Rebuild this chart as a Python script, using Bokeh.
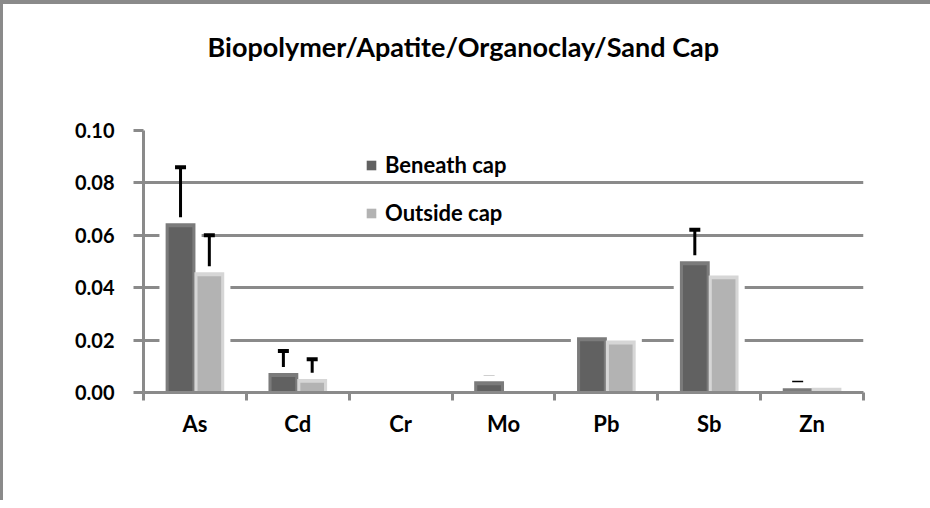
from bokeh.plotting import figure
from bokeh.models import (ColumnDataSource, Whisker, TeeHead, Legend, LegendItem,
                          FixedTicker, NumeralTickFormatter, Range1d, Title)
from bokeh.embed import file_html
from bokeh.resources import INLINE

# ---------------- data ----------------
title_text = "Biopolymer/Apatite/Organoclay/Sand Cap"
categories = ["As", "Cd", "Cr", "Mo", "Pb", "Sb", "Zn"]
beneath = [0.0646, 0.0074, 0.0005, 0.0043, 0.0211, 0.0501, 0.0016]
beneath_err = [0.0214, 0.0084, 0.0010, 0.0015, 0.0003, 0.0120, 0.0021]
outside = [0.0459, 0.0052, 0.0002, 0.0005, 0.0198, 0.0447, 0.0018]
outside_err = [0.0141, 0.0075, 0.0, 0.0009, 0.0002, 0.0006, 0.0012]
series_names = ["Beneath cap", "Outside cap"]
y_ticks = [0.0, 0.02, 0.04, 0.06, 0.08, 0.10]

FONT = "Lato"
GRID = "#8a8a8a"
Y_MAX = 0.1

p = figure(frame_width=720, frame_height=262, output_backend="svg",
           toolbar_location=None,
           x_range=Range1d(0, len(categories)), y_range=Range1d(0, Y_MAX),
           min_border_left=140, min_border_right=67, min_border_top=126,
           min_border_bottom=108)
p.background_fill_color = "white"
p.border_fill_color = "white"
p.outline_line_color = None
p.styles = {"border-top": "4px solid #8a8a8a", "border-left": "3px solid #8a8a8a"}
p.title.visible = False

# spacer between plot area and title, then the title itself
p.add_layout(Title(text=" ", text_font_size="2px", standoff=64), "above")
p.add_layout(Title(text=title_text, text_font=FONT, text_font_style="bold",
                   text_font_size="27px", align="left", offset=64, standoff=0,
                   text_color="black"), "above")

BW = 0.29          # bar width (category units)
OFF = 0.14         # dodge offset
INNER = 0.23       # inner body width
HALO = 0.41        # white halo width
HALO_UP = 0.0023   # halo above bar
BEVEL = 0.0015

renderers = []
for vals, errs, sign, edge, body in [
        (beneath, beneath_err, -1, "#7b7b7b", "#616161"),
        (outside, outside_err, 1, "#d6d6d6", "#b3b3b3")]:
    xs = [i + 0.5 + sign * OFF for i in range(len(categories))]
    src = ColumnDataSource(dict(
        x=xs, top=vals,
        halo=[v + HALO_UP for v in vals],
        inner=[max(v - BEVEL, 0) for v in vals]))
    p.vbar(x="x", top="halo", bottom=0, width=HALO, source=src,
           fill_color="white", line_color=None)
    renderers.append((src, edge, body))

rend_items = []
for (src, edge, body), vals, errs in zip(renderers, [beneath, outside],
                                          [beneath_err, outside_err]):
    p.vbar(x="x", top="top", bottom=0, width=BW, source=src,
           fill_color=edge, line_color=None)
    r = p.vbar(x="x", top="inner", bottom=0, width=INNER, source=src,
               fill_color=body, line_color=None)
    rend_items.append(r)
    xs = src.data["x"]
    keep = [i for i, e in enumerate(errs) if e > 0]
    wsrc = ColumnDataSource(dict(
        x=[xs[i] for i in keep],
        lo=[vals[i] for i in keep],
        hi=[vals[i] + errs[i] for i in keep]))
    w = Whisker(base="x", lower="lo", upper="hi", source=wsrc,
                line_color="black", line_width=3,
                upper_head=TeeHead(size=11, line_width=4, line_color="black"),
                lower_head=None)
    p.add_layout(w)

legend = Legend(items=[LegendItem(label=series_names[0], renderers=[rend_items[0]]),
                       LegendItem(label=series_names[1], renderers=[rend_items[1]])],
                location=(222, 166), orientation="vertical")
legend.background_fill_alpha = 0
legend.border_line_color = None
legend.padding = 0
legend.margin = 0
legend.spacing = 21
legend.glyph_width = 12
legend.glyph_height = 12
legend.label_height = 24
legend.label_standoff = 8
legend.label_text_font = FONT
legend.label_text_font_style = "bold"
legend.label_text_font_size = "22px"
legend.label_text_color = "black"
legend.label_text_baseline = "middle"
p.add_layout(legend)

# x axis
p.xaxis.ticker = FixedTicker(ticks=[i + 0.5 for i in range(len(categories))],
                             minor_ticks=list(range(len(categories) + 1)))
p.xaxis.major_label_overrides = {i + 0.5: c for i, c in enumerate(categories)}
p.xaxis.major_tick_line_color = None
p.xaxis.major_tick_out = 0
p.xaxis.major_tick_in = 0
p.xaxis.minor_tick_out = 8
p.xaxis.minor_tick_in = 0
p.xaxis.minor_tick_line_color = GRID
p.xaxis.minor_tick_line_width = 3
p.xaxis.axis_line_color = GRID
p.xaxis.axis_line_width = 3
p.xaxis.major_label_standoff = 9
p.xaxis.major_label_text_font = FONT
p.xaxis.major_label_text_font_style = "bold"
p.xaxis.major_label_text_font_size = "22px"
p.xaxis.major_label_text_color = "black"
p.xgrid.visible = False

# y axis
p.yaxis.ticker = FixedTicker(ticks=y_ticks, minor_ticks=[])
p.yaxis.formatter = NumeralTickFormatter(format="0.00")
p.yaxis.major_tick_out = 10
p.yaxis.major_tick_in = 0
p.yaxis.major_tick_line_color = GRID
p.yaxis.major_tick_line_width = 3
p.yaxis.axis_line_color = GRID
p.yaxis.axis_line_width = 3
p.yaxis.major_label_standoff = 19
p.yaxis.major_label_text_font = FONT
p.yaxis.major_label_text_font_style = "bold"
p.yaxis.major_label_text_font_size = "20px"
p.yaxis.major_label_text_color = "black"
p.ygrid.grid_line_color = GRID
p.ygrid.grid_line_width = 3

open("out.html", "w").write(file_html(p, INLINE))
